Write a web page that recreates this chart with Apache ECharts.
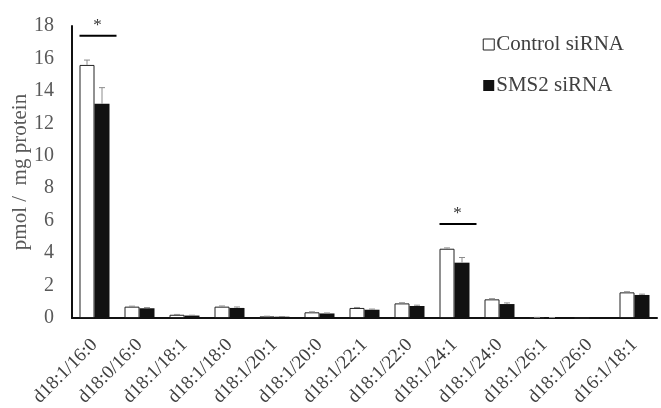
<!DOCTYPE html>
<html><head><meta charset="utf-8">
<script src="https://cdn.jsdelivr.net/npm/echarts@6/dist/echarts.min.js"></script>
<style>html,body{margin:0;padding:0;background:#fff}#c{width:661px;height:408px}</style>
</head><body><div id="c"></div>
<script>
const categories = ['d18:1/16:0','d18:0/16:0','d18:1/18:1','d18:1/18:0','d18:1/20:1','d18:1/20:0','d18:1/22:1','d18:1/22:0','d18:1/24:1','d18:1/24:0','d18:1/26:1','d18:1/26:0','d16:1/18:1'];
const controlValues = [15.6,0.7,0.2,0.7,0.1,0.35,0.62,0.9,4.27,1.15,0.03,0,1.58];
const controlErrors = [0.3,0.03,0.02,0.04,0.01,0.03,0.03,0.04,0.05,0.04,0.01,0,0.04];
const smsValues = [13.2,0.6,0.15,0.62,0.08,0.28,0.51,0.74,3.41,0.86,0.02,0,1.42];
const smsErrors = [1.0,0.04,0.02,0.06,0.01,0.03,0.04,0.05,0.32,0.07,0.01,0,0.05];
const yTicks = [0,2,4,6,8,10,12,14,16,18];
const sigMarks = [[0,17.4],[8,5.8]];

const chart = echarts.init(document.getElementById('c'));
const barW = 15;
function errSeries(vals, errs, offset){
  return {
    type:'custom', silent:true, z:5,
    data: vals.map((v,i)=>[i,v,errs[i]]),
    renderItem(params, api){
      const x = api.coord([api.value(0),0])[0] + offset;
      const top = api.coord([api.value(0), api.value(1)+api.value(2)])[1];
      const base = api.coord([api.value(0), api.value(1)])[1];
      if (api.value(2) <= 0) return;
      return {type:'group', children:[
        {type:'line', shape:{x1:x,y1:base,x2:x,y2:top}, style:{stroke:'#8c8c8c',lineWidth:1}},
        {type:'line', shape:{x1:x-3,y1:top,x2:x+3,y2:top}, style:{stroke:'#8c8c8c',lineWidth:1}}
      ]};
    }
  };
}
chart.setOption({
  animation:false,
  textStyle:{fontFamily:'Liberation Serif'},
  grid:{left:72,right:4,top:26,bottom:90,containLabel:false,outerBoundsMode:'none'},
  legend:{
    orient:'vertical', right:32, top:29, itemGap:20, itemWidth:11, itemHeight:11,
    icon:'rect',
    textStyle:{fontFamily:'Liberation Serif',fontSize:21,color:'#404040',padding:[0,0,0,-3]},
    data:[
      {name:'Control siRNA', itemStyle:{color:'#fff',borderColor:'#222',borderWidth:1}},
      {name:'SMS2 siRNA', itemStyle:{color:'#111'}}
    ]
  },
  xAxis:{
    type:'category', data:categories,
    axisLine:{lineStyle:{color:'#111',width:2}},
    axisTick:{show:false},
    axisLabel:{rotate:45,interval:0,fontFamily:'Liberation Serif',fontSize:19,color:'#404040',margin:24}
  },
  yAxis:{
    type:'value', min:0, max:18, interval:2,
    name:'pmol /  mg protein', nameLocation:'middle', nameGap:41, nameMoveOverlap:false,
    nameTextStyle:{fontFamily:'Liberation Serif',fontSize:21,color:'#595959'},
    axisLine:{show:true,lineStyle:{color:'#111',width:2}},
    axisTick:{show:false}, splitLine:{show:false},
    axisLabel:{fontFamily:'Liberation Serif',fontSize:20,color:'#595959',margin:18,
      formatter:v=>yTicks.includes(v)?String(v):''}
  },
  series:[
    {name:'Control siRNA', type:'bar', data:controlValues, barWidth:barW, barGap:'0%',
     itemStyle:{color:'#fff',borderColor:'#222',borderWidth:1}},
    {name:'SMS2 siRNA', type:'bar', data:smsValues, barWidth:barW, barGap:'0%',
     itemStyle:{color:'#111'}},
    errSeries(controlValues, controlErrors, -barW/2),
    errSeries(smsValues, smsErrors, barW/2),
    {type:'custom', silent:true, z:6, data:sigMarks,
     renderItem(params, api){
       const p = api.coord([api.value(0), api.value(1)]);
       return {type:'group', children:[
         {type:'line', shape:{x1:p[0]-15,y1:p[1],x2:p[0]+22,y2:p[1]}, style:{stroke:'#000',lineWidth:2}},
         {type:'text', x:p[0]+3, y:p[1]-2, style:{text:'*',fontFamily:'Liberation Serif',fontSize:17,fill:'#333',align:'center',verticalAlign:'bottom'}}
       ]};
     }}
  ]
});
</script></body></html>
